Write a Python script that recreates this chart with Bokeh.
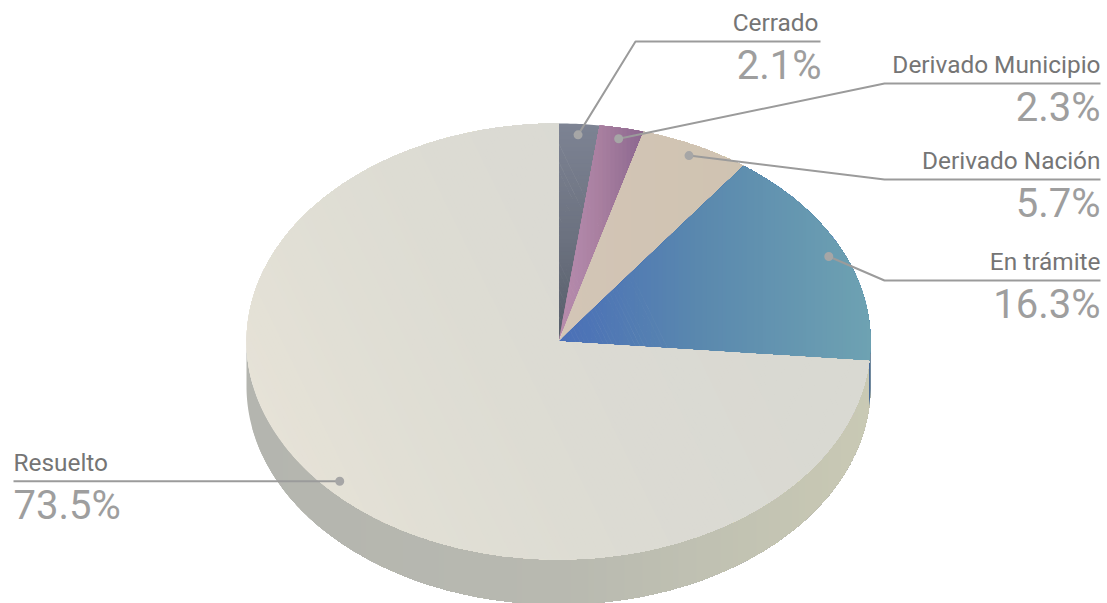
import numpy as np
from bokeh.core.properties import value
from bokeh.embed import file_html
from bokeh.models import ColumnDataSource, Range1d
from bokeh.plotting import figure
from bokeh.resources import INLINE

# Complaint status shares, clockwise from twelve o'clock
categories = ["Cerrado", "Derivado Municipio", "Derivado Nación", "En trámite", "Resuelto"]
shares = [2.1, 2.3, 5.7, 16.3, 73.5]

# Pie geometry in page pixels
CX, CY, RX, RY, DEPTH = 558.0, 341.0, 312.0, 218.0, 45.0
LABEL_RADIUS = 0.95

# Gradient of each top face: direction and (offset, colour) stops along it
face_gradients = [
    ((0.0, 1.0), [(-218, "#7d8393"), (-100, "#6b717f"), (0, "#565d69")]),
    ((1.0, 0.0), [(0, "#b88cab"), (22, "#b086a8"), (42, "#a87f9f"), (85, "#8b678f")]),
    ((1.0, 0.0), [(0, "#d3c5b6"), (190, "#cfc3b1")]),
    ((1.0, 0.0), [(0, "#4a6fb8"), (140, "#5a88ae"), (312, "#6ea2b2")]),
    ((0.9, -0.44), [(-300, "#e6e2d7"), (-200, "#e1dfd5"), (-70, "#dddcd3"), (40, "#dbdad3"), (200, "#d9d9d2")]),
]
side_stops = [(-312, "#b4b5af"), (0, "#b8b9b0"), (150, "#c0c1b2"), (312, "#c9c9b4")]
tramite_side_colour = "#1d4c8c"

# Leader elbows and label alignment, one entry per category
elbows = [(635, 41), (884, 83), (884, 179), (884, 280), None]
rule_ends = [820, 1100, 1100, 1100, 13]
label_ends = [818, 1100, 1100, 1100, 13]
value_ends = [821, 1100, 1100, 1100, 13]
text_aligns = ["right", "right", "right", "right", "left"]

LEADER = "#9b9b9b"
DOT = "#a6a6a6"
LABEL_TEXT = "#757575"
VALUE_TEXT = "#9e9e9e"
LABEL_SIZE, VALUE_SIZE = 24.4, 40


def ellipse_point(theta):
    return CX + RX * np.sin(theta), CY - RY * np.cos(theta)


def clip_from(poly, direction, limit):
    """Keep the part of a polygon whose offset along direction is >= limit."""
    t = (poly[:, 0] - CX) * direction[0] + (poly[:, 1] - CY) * direction[1] - limit
    out = []
    for i in range(len(poly)):
        j = (i + 1) % len(poly)
        if t[i] >= 0:
            out.append(poly[i])
        if (t[i] >= 0) != (t[j] >= 0):
            out.append(poly[i] + (poly[j] - poly[i]) * t[i] / (t[i] - t[j]))
    return np.array(out)


def hex_rgb(colour):
    return np.array([int(colour[k:k + 2], 16) for k in (1, 3, 5)], dtype=float)


def ramp(stops, t):
    offsets = [s[0] for s in stops]
    rgb = [np.interp(t, offsets, [hex_rgb(s[1])[c] for s in stops]) for c in range(3)]
    return "#%02x%02x%02x" % tuple(int(round(v)) for v in rgb)


def gradient_patches(fig, poly, direction, stops, band=5.0):
    """Paint a polygon as overlapping bands so no seams show between them."""
    t = (poly[:, 0] - CX) * direction[0] + (poly[:, 1] - CY) * direction[1]
    xs, ys, colours = [list(poly[:, 0])], [list(poly[:, 1])], [ramp(stops, t.min())]
    for limit in np.arange(t.min() + band, t.max(), band):
        part = clip_from(poly, direction, limit)
        if len(part) >= 3:
            xs.append(list(part[:, 0]))
            ys.append(list(part[:, 1]))
            colours.append(ramp(stops, limit + band / 2))
    source = ColumnDataSource(dict(xs=xs, ys=ys, colour=colours))
    fig.patches("xs", "ys", source=source, fill_color="colour", line_color=None)


p = figure(width=1107, height=603, output_backend="svg", toolbar_location=None,
           x_range=Range1d(0, 1107), y_range=Range1d(603, 0), min_border=0,
           background_fill_color="white", border_fill_color="white", outline_line_color=None)
p.axis.visible = False
p.grid.visible = False

total = sum(shares)
edges = np.cumsum([0.0] + shares) / total * 2 * np.pi

# Rim of the disc: the front half of the ellipse, extruded downwards
front = np.linspace(np.pi / 2, 3 * np.pi / 2, 240)
fx, fy = ellipse_point(front)
rim = np.vstack([np.column_stack([fx, fy]), np.column_stack([fx[::-1], fy[::-1] + DEPTH])])
gradient_patches(p, rim, (1.0, 0.0), side_stops, band=6.0)

# The small stretch of the "En trámite" slice that shows on the rim
sliver = np.linspace(np.pi / 2, edges[4], 12)
sx, sy = ellipse_point(sliver)
p.patch(list(sx) + list(sx[::-1]), list(sy) + list(sy[::-1] + DEPTH),
        fill_color=tramite_side_colour, line_color=None)

# Top faces
for k, (direction, stops) in enumerate(face_gradients):
    arc = np.linspace(edges[k], edges[k + 1], max(8, int((edges[k + 1] - edges[k]) * 120)))
    ax, ay = ellipse_point(arc)
    wedge = np.vstack([[CX, CY], np.column_stack([ax, ay])])
    gradient_patches(p, wedge, direction, stops, band=4.0)

# Leader lines, rules, dots and labels
for k, name in enumerate(categories):
    mid = (edges[k] + edges[k + 1]) / 2
    dx = CX + LABEL_RADIUS * RX * np.sin(mid)
    dy = CY - LABEL_RADIUS * RY * np.cos(mid)
    if elbows[k] is None:
        rule_y = dy
        line_x, line_y = [dx, rule_ends[k]], [dy, dy]
    else:
        ex, rule_y = elbows[k]
        line_x, line_y = [dx, ex, rule_ends[k]], [dy, rule_y, rule_y]
    p.line(line_x, line_y, line_color=LEADER, line_width=2)
    p.scatter([dx], [dy], size=9, marker="circle", fill_color=DOT, line_color=None)
    p.text([label_ends[k]], [rule_y - 9.4 - 0.39 * LABEL_SIZE], text=[name], text_font=value("Roboto"),
           text_font_size=f"{LABEL_SIZE}px", text_color=LABEL_TEXT, text_align=text_aligns[k],
           text_baseline="alphabetic")
    p.text([value_ends[k]], [rule_y + 40 - 0.39 * VALUE_SIZE], text=[f"{shares[k]}%"], text_font=value("Roboto"),
           text_font_size=f"{VALUE_SIZE}px", text_color=VALUE_TEXT, text_align=text_aligns[k],
           text_baseline="alphabetic")

open("out.html", "w").write(file_html(p, INLINE))
